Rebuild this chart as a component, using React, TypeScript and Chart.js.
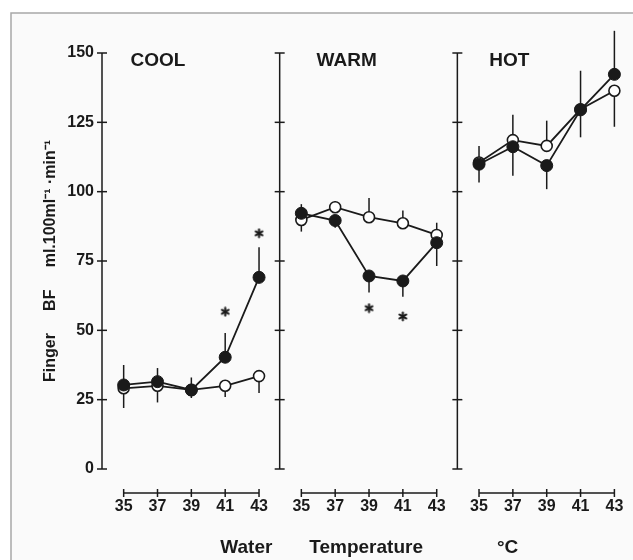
import React, { useEffect, useRef } from "react";
import { Chart, registerables } from "chart.js";

Chart.register(...registerables);

// ---------- data ----------
const panels = ["COOL", "WARM", "HOT"];
const temps = [35, 37, 39, 41, 43];
const xTickLabels = ["35", "37", "39", "41", "43"];
const yTicks = [0, 25, 50, 75, 100, 125, 150];

// filled circles
const filledCool = [30.3, 31.5, 28.5, 40.3, 69.1];
const filledWarm = [92.2, 89.6, 69.6, 67.8, 81.6];
const filledHot = [109.9, 116.2, 109.4, 129.5, 142.3];
// open circles
const openCool = [29.1, 30.0, 28.5, 30.0, 33.5];
const openWarm = [89.8, 94.4, 90.8, 88.6, 84.4];
const openHot = [110.5, 118.6, 116.5, 129.7, 136.4];

// error bar tips (bar goes from mean to tip)
const filledErrCool = [37.5, 36.4, 33.0, 49.0, 80.0];
const filledErrWarm = [95.5, 87.0, 63.6, 62.1, 73.2];
const filledErrHot = [103.3, 105.7, 100.9, 119.6, 158.0];
const openErrCool = [22.0, 24.0, 25.6, 26.0, 27.4];
const openErrWarm = [85.6, 96.5, 97.7, 93.2, 88.8];
const openErrHot = [116.5, 127.7, 125.6, 143.6, 123.4];

// significance asterisks
const starPanel = [0, 0, 1, 1];
const starTemp = [41, 43, 39, 41];
const starValue = [56.7, 85.0, 58.0, 55.0];

// ---------- layout constants ----------
const panelShift = 10.5; // x-units between panels
const yAxisAt = 33.72; // temperature position of each panel's y axis
const xMin = 33.72;
const xMax = 64.68;
const titleAt = [35.4, 35.9, 35.6];
const FONT = "'Liberation Sans', Arial, Helvetica, sans-serif";
const INK = "#1a1a1a";

const filledSeries = [filledCool, filledWarm, filledHot];
const openSeries = [openCool, openWarm, openHot];
const filledErr = [filledErrCool, filledErrWarm, filledErrHot];
const openErr = [openErrCool, openErrWarm, openErrHot];

function buildSeries(series: number[][]) {
  const pts: { x: number; y: number | null }[] = [];
  series.forEach((vals, i) => {
    vals.forEach((v, j) => pts.push({ x: temps[j] + i * panelShift, y: v }));
    if (i < series.length - 1) pts.push({ x: temps[temps.length - 1] + i * panelShift + 1, y: null });
  });
  return pts;
}

function makeAsterisk() {
  const c = document.createElement("canvas");
  c.width = 11;
  c.height = 11;
  const g = c.getContext("2d")!;
  g.strokeStyle = INK;
  g.lineWidth = 2.2;
  g.lineCap = "round";
  const r = 3.8;
  [90, 30, 150].forEach((deg) => {
    const a = (deg * Math.PI) / 180;
    g.beginPath();
    g.moveTo(5.5 - r * Math.cos(a), 5.5 - r * Math.sin(a));
    g.lineTo(5.5 + r * Math.cos(a), 5.5 + r * Math.sin(a));
    g.stroke();
  });
  return c;
}

const panelPlugin = {
  id: "panelAxes",
  beforeDraw(chart: any) {
    const { ctx, width, height } = chart;
    ctx.save();
    ctx.fillStyle = "#ffffff";
    ctx.fillRect(0, 0, width, height);
    ctx.fillStyle = "#fafafa";
    ctx.fillRect(11, 13, width - 11, height - 13);
    ctx.strokeStyle = "#a8a8a8";
    ctx.lineWidth = 1.5;
    ctx.beginPath();
    ctx.moveTo(11, height);
    ctx.lineTo(11, 13);
    ctx.lineTo(width, 13);
    ctx.stroke();
    ctx.restore();
  },
  beforeDatasetsDraw(chart: any) {
    const { ctx } = chart;
    const x = chart.scales.x;
    const y = chart.scales.y;
    const line = (a: number, b: number, c: number, d: number) => {
      ctx.beginPath();
      ctx.moveTo(a, b);
      ctx.lineTo(c, d);
      ctx.stroke();
    };
    ctx.save();
    ctx.strokeStyle = INK;
    ctx.lineWidth = 1.5;
    const top = y.getPixelForValue(yTicks[yTicks.length - 1]);
    const bot = y.getPixelForValue(yTicks[0]);
    panels.forEach((name, i) => {
      const ax = x.getPixelForValue(yAxisAt + i * panelShift);
      line(ax, top, ax, bot);
      yTicks.forEach((v) => {
        const py = y.getPixelForValue(v);
        line(ax - 5, py, ax + 5, py);
      });
      const xa = bot + 24;
      const x0 = x.getPixelForValue(temps[0] + i * panelShift);
      const x1 = x.getPixelForValue(temps[temps.length - 1] + i * panelShift);
      line(x0, xa, x1, xa);
      temps.forEach((t) => {
        const px = x.getPixelForValue(t + i * panelShift);
        line(px, xa - 4, px, xa + 4);
      });
      // error bars
      temps.forEach((t, j) => {
        const px = x.getPixelForValue(t + i * panelShift);
        [
          [filledSeries[i][j], filledErr[i][j]],
          [openSeries[i][j], openErr[i][j]],
        ].forEach(([m, tip]) => {
          if (tip == null) return;
          line(px, y.getPixelForValue(m), px, y.getPixelForValue(tip));
        });
      });
      // panel title
      ctx.fillStyle = INK;
      ctx.font = `bold 19px ${FONT}`;
      ctx.textAlign = "left";
      ctx.textBaseline = "middle";
      ctx.fillText(name, x.getPixelForValue(titleAt[i] + i * panelShift), top + 8);
    });
    ctx.restore();
  },
};

export default function App() {
  const ref = useRef<HTMLCanvasElement | null>(null);
  useEffect(() => {
    if (!ref.current) return;
    const tickValues = panels.flatMap((_, i) => temps.map((t) => t + i * panelShift));
    const chart = new Chart(ref.current, {
      type: "line",
      data: {
        datasets: [
          {
            label: "stars",
            data: starTemp.map((t, k) => ({ x: t + starPanel[k] * panelShift, y: starValue[k] })),
            showLine: false,
            pointStyle: makeAsterisk(),
            pointRadius: 5,
            order: 0,
          },
          {
            label: "filled points",
            data: buildSeries(filledSeries),
            showLine: false,
            pointRadius: 6,
            borderWidth: 1,
            borderColor: INK,
            backgroundColor: INK,
            order: 1,
          },
          {
            label: "open points",
            data: buildSeries(openSeries),
            showLine: false,
            pointRadius: 5.5,
            borderWidth: 1.6,
            borderColor: INK,
            backgroundColor: "#ffffff",
            order: 2,
          },
          {
            label: "open line",
            data: buildSeries(openSeries),
            pointRadius: 0,
            borderWidth: 1.8,
            borderColor: INK,
            spanGaps: false,
            order: 3,
          },
          {
            label: "filled line",
            data: buildSeries(filledSeries),
            pointRadius: 0,
            borderWidth: 1.8,
            borderColor: INK,
            spanGaps: false,
            order: 4,
          },
        ],
      },
      options: {
        animation: false,
        responsive: false,
        devicePixelRatio: 1,
        layout: { padding: { left: 0, right: 0, top: 53, bottom: 0 } },
        plugins: { legend: { display: false }, tooltip: { enabled: false } },
        scales: {
          x: {
            type: "linear",
            min: xMin,
            max: xMax,
            grid: { display: true, drawOnChartArea: false, drawTicks: true, tickLength: 27, color: "rgba(0,0,0,0)" },
            border: { display: false },
            afterBuildTicks: (scale: any) => {
              scale.ticks = tickValues.map((v) => ({ value: v }));
            },
            afterFit: (scale: any) => {
              scale.height = 91;
            },
            ticks: {
              autoSkip: false,
              maxRotation: 0,
              padding: 1,
              color: INK,
              font: { family: FONT, size: 16, weight: "bold" },
              callback: (_v: any, idx: number) => xTickLabels[idx % xTickLabels.length],
            },
            title: {
              display: true,
              text: "  Water       Temperature              °C",
              color: INK,
              font: { family: FONT, size: 19, weight: "bold" },
              padding: { top: 0, bottom: 1 },
            },
          },
          y: {
            type: "linear",
            min: yTicks[0],
            max: yTicks[yTicks.length - 1],
            grid: { display: false, drawTicks: false },
            border: { display: false },
            afterBuildTicks: (scale: any) => {
              scale.ticks = yTicks.map((v) => ({ value: v }));
            },
            afterFit: (scale: any) => {
              scale.width = 102;
            },
            ticks: {
              padding: 8,
              color: INK,
              font: { family: FONT, size: 16, weight: "bold" },
            },
            title: {
              display: true,
              text: "Finger     BF     ml.100ml⁻¹ ·min⁻¹",
              color: INK,
              font: { family: FONT, size: 16, weight: "bold" },
              padding: { top: 41, bottom: 0 },
            },
          },
        },
      },
      plugins: [panelPlugin],
    } as any);
    return () => chart.destroy();
  }, []);
  return (
    <div style={{ position: "absolute", left: 0, top: 0, width: 633, height: 560, overflow: "hidden" }}>
      <canvas ref={ref} width={633} height={560} style={{ display: "block" }} />
    </div>
  );
}
